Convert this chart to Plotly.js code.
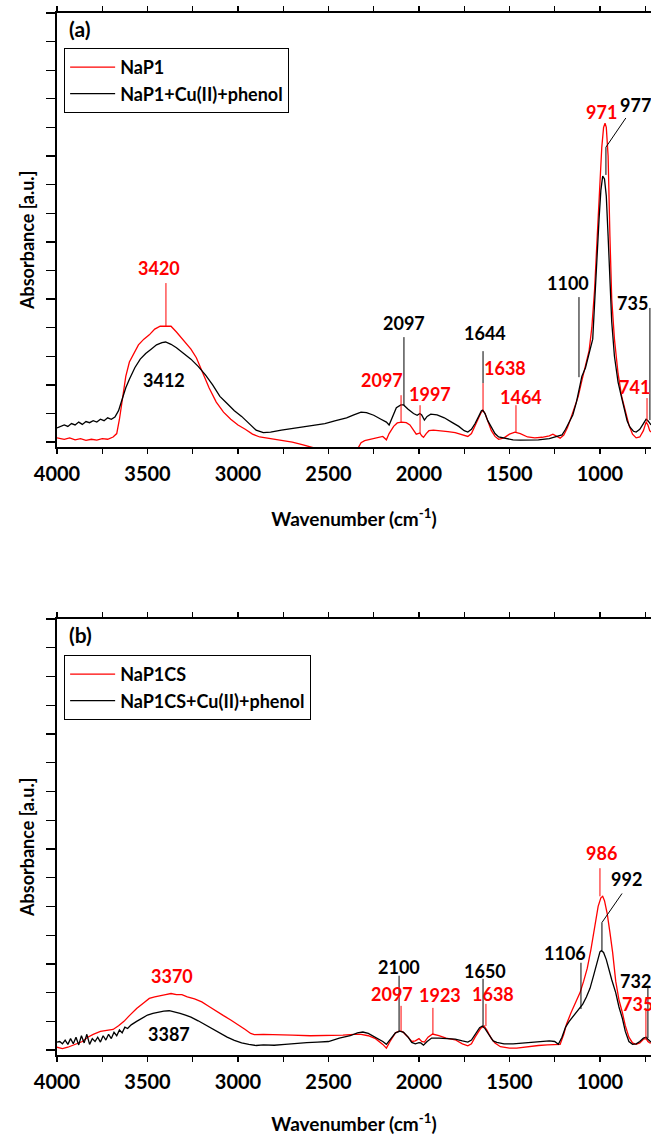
<!DOCTYPE html>
<html>
<head>
<meta charset="utf-8">
<script src="https://cdn.plot.ly/plotly-3.0.1.min.js"></script>
<style>html,body{margin:0;padding:0;background:#fff;}#chart{width:651px;height:1135px;}</style>
</head>
<body>
<div id="chart"></div>
<script>
// ---------- Panel (a) data ----------
const a_red_wn  = [4000,3960,3930,3900,3870,3840,3810,3780,3750,3720,3690,3670,3655,3640,3620,3600,3575,3550,3520,3490,3460,3430,3400,3370,3340,3300,3260,3230,3200,3160,3120,3080,3040,3000,2960,2920,2880,2820,2760,2700,2640,2580,2500,2400,2340,2320,2300,2260,2220,2200,2180,2165,2140,2120,2095,2070,2050,2030,2015,2005,1995,1985,1975,1960,1945,1920,1880,1840,1800,1760,1730,1710,1690,1670,1655,1645,1635,1620,1600,1580,1560,1530,1500,1470,1440,1400,1360,1320,1280,1260,1240,1220,1200,1180,1160,1140,1120,1100,1080,1060,1045,1030,1015,1000,990,980,972,965,955,945,935,920,900,880,860,840,820,800,780,760,745,735,725,718];
const a_red_abs = [0.15,0.1,0.15,0.08,0.12,0.06,0.1,0.07,0.12,0.1,0.18,0.3,0.8,1.5,2.3,2.8,3.1,3.4,3.6,3.75,3.95,4.05,4.05,4.05,3.85,3.55,3.25,2.95,2.5,1.9,1.4,1.05,0.8,0.6,0.45,0.28,0.18,0.12,0.05,0.0,-0.1,-0.2,-0.3,-0.3,-0.25,-0.02,0.05,0.1,0.15,0.2,0.08,0.3,0.55,0.67,0.7,0.68,0.6,0.42,0.28,0.3,0.32,0.22,0.17,0.3,0.4,0.42,0.4,0.37,0.33,0.27,0.2,0.3,0.55,0.85,1.05,1.1,1.0,0.75,0.4,0.2,0.1,0.15,0.28,0.35,0.3,0.18,0.15,0.17,0.22,0.28,0.22,0.14,0.25,0.5,0.85,1.2,1.6,2.15,2.7,3.2,4.0,5.3,7.2,9.0,10.3,11.0,11.15,11.0,10.0,7.2,5.0,3.6,2.4,1.6,1.05,0.6,0.28,0.15,0.18,0.4,0.7,0.6,0.4,0.35];

const a_blk_wn  = [4000,3980,3960,3940,3920,3900,3880,3860,3840,3820,3800,3780,3760,3740,3720,3700,3680,3660,3640,3620,3600,3570,3540,3510,3480,3450,3420,3400,3370,3340,3300,3260,3220,3180,3140,3100,3060,3020,2980,2940,2900,2860,2820,2760,2700,2640,2580,2520,2460,2400,2360,2320,2290,2250,2210,2180,2165,2150,2125,2100,2085,2060,2030,2010,1995,1985,1970,1955,1935,1900,1860,1820,1780,1750,1730,1710,1690,1670,1655,1648,1635,1620,1600,1580,1560,1520,1480,1440,1400,1340,1280,1240,1210,1190,1170,1150,1130,1115,1100,1080,1060,1040,1030,1020,1005,995,985,975,965,955,945,935,920,900,880,865,850,835,815,800,780,760,745,735,725,718];
const a_blk_abs = [0.5,0.55,0.6,0.55,0.65,0.6,0.7,0.62,0.72,0.68,0.75,0.7,0.8,0.75,0.85,0.8,0.88,1.1,1.5,1.9,2.2,2.6,2.9,3.1,3.25,3.4,3.48,3.5,3.42,3.3,3.1,2.9,2.65,2.35,2.0,1.6,1.35,1.1,0.9,0.65,0.42,0.33,0.35,0.42,0.48,0.53,0.6,0.65,0.75,0.85,0.95,1.05,1.03,0.94,0.8,0.7,0.6,0.85,1.2,1.3,1.3,1.15,1.0,0.94,1.0,0.95,0.77,0.9,0.98,0.95,0.85,0.7,0.55,0.4,0.35,0.45,0.65,0.9,1.1,1.12,1.0,0.75,0.5,0.3,0.18,0.12,0.08,0.07,0.07,0.08,0.12,0.18,0.25,0.45,0.7,0.95,1.4,1.9,2.3,2.6,3.1,3.6,4.8,6.2,7.8,8.8,9.3,9.2,8.6,7.2,5.6,4.2,3.0,2.1,1.55,1.1,0.75,0.53,0.38,0.35,0.45,0.65,0.8,0.75,0.65,0.6];

// ---------- Panel (b) data ----------
const b_red_wn  = [4000,3970,3940,3900,3860,3830,3800,3760,3720,3690,3660,3630,3600,3560,3520,3490,3460,3430,3400,3370,3340,3310,3280,3240,3200,3160,3120,3080,3040,3000,2960,2930,2910,2860,2800,2700,2600,2500,2420,2360,2320,2280,2240,2200,2180,2160,2130,2110,2090,2060,2040,2020,2000,1985,1970,1950,1925,1890,1850,1800,1760,1730,1710,1690,1660,1640,1625,1600,1580,1550,1500,1460,1400,1340,1290,1240,1220,1200,1185,1160,1130,1110,1090,1070,1050,1030,1010,995,985,975,960,945,930,913,895,876,860,840,820,800,780,760,745,735,725,718];
const b_red_abs = [0.1,0.05,0.1,0.2,0.3,0.45,0.55,0.65,0.68,0.72,0.85,1.0,1.2,1.45,1.65,1.8,1.85,1.9,1.93,1.97,1.93,1.93,1.85,1.78,1.68,1.52,1.35,1.2,1.05,0.9,0.72,0.58,0.54,0.55,0.53,0.52,0.5,0.5,0.52,0.55,0.55,0.5,0.4,0.2,0.07,0.3,0.6,0.66,0.64,0.45,0.3,0.32,0.4,0.3,0.28,0.45,0.56,0.5,0.42,0.36,0.22,0.15,0.22,0.45,0.75,0.84,0.7,0.4,0.25,0.12,0.07,0.07,0.12,0.16,0.18,0.2,0.2,0.55,0.9,1.3,1.7,2.0,2.4,2.85,3.5,4.3,5.0,5.3,5.35,5.2,4.75,4.1,3.4,2.4,1.75,1.3,0.85,0.45,0.25,0.2,0.25,0.38,0.4,0.3,0.25,0.25];

const b_blk_wn  = [4000,3985,3970,3955,3940,3925,3910,3895,3880,3865,3850,3835,3820,3805,3790,3775,3760,3745,3730,3715,3700,3685,3670,3655,3640,3625,3610,3590,3560,3530,3500,3470,3440,3410,3380,3350,3320,3290,3260,3220,3180,3140,3100,3060,3020,2980,2940,2900,2860,2800,2740,2680,2620,2560,2500,2440,2380,2340,2310,2280,2240,2200,2180,2160,2130,2105,2085,2060,2040,2020,2000,1990,1975,1955,1930,1890,1850,1800,1760,1730,1710,1690,1665,1650,1635,1610,1590,1570,1530,1480,1440,1380,1320,1280,1250,1230,1210,1190,1170,1140,1115,1095,1075,1055,1035,1015,1000,992,980,965,950,935,913,895,876,860,840,820,800,780,760,745,735,725,718];
const b_blk_abs = [0.28,0.3,0.22,0.35,0.2,0.4,0.22,0.45,0.18,0.5,0.25,0.55,0.2,0.4,0.3,0.45,0.28,0.5,0.35,0.55,0.4,0.62,0.5,0.7,0.6,0.8,0.75,0.88,1.0,1.12,1.22,1.28,1.32,1.36,1.37,1.33,1.28,1.22,1.15,1.02,0.88,0.72,0.58,0.45,0.34,0.25,0.2,0.16,0.18,0.17,0.2,0.24,0.26,0.28,0.3,0.42,0.5,0.6,0.63,0.58,0.45,0.3,0.2,0.35,0.6,0.66,0.62,0.45,0.27,0.22,0.26,0.25,0.17,0.3,0.42,0.42,0.4,0.38,0.32,0.28,0.35,0.55,0.78,0.84,0.75,0.5,0.32,0.27,0.22,0.22,0.24,0.27,0.29,0.32,0.3,0.2,0.45,0.8,1.0,1.25,1.42,1.6,1.85,2.15,2.6,3.1,3.42,3.46,3.4,3.15,2.76,2.45,2.0,1.5,1.1,0.65,0.3,0.2,0.22,0.3,0.42,0.45,0.38,0.3,0.28];

const seriesNames = ['NaP1','NaP1+Cu(II)+phenol','NaP1CS','NaP1CS+Cu(II)+phenol'];
const panelLabels = ['(a)','(b)'];
const xTickVals = [4000,3500,3000,2500,2000,1500,1000];

// ---------- Peak labels: [text, colour, labelX, labelY, line points [[x,y],...]] ----------
const RED = '#ff0000', BLK = '#000000';
const a_labels = [
  ['3420', RED, 3436, 6.08, [[3398,5.56],[3398,4.06]]],
  ['3412', BLK, 3409, 2.17, null],
  ['2097', BLK, 2083, 4.16, [[2083,3.67],[2083,1.29]]],
  ['2097', RED, 2204, 2.17, [[2099,1.64],[2099,0.70]]],
  ['1997', RED, 1939, 1.68, [[1994,1.29],[1994,0.31]]],
  ['1644', BLK, 1635, 3.81, [[1646,3.18],[1646,2.06]]],
  ['1638', RED, 1525, 2.59, [[1646,2.06],[1646,1.12]]],
  ['1464', RED, 1436, 1.57, [[1464,1.29],[1464,0.35]]],
  ['1100', BLK, 1177, 5.56, [[1116,5.07],[1116,2.27]]],
  ['735',  BLK, 818, 4.86, [[724,4.69],[724,0.77]]],
  ['741',  RED, 807, 1.92, [[740,1.54],[740,0.70]]],
  ['971',  RED, 989, 11.54, null],
  ['977',  BLK, 801, 11.78, [[857,11.33],[967,10.31],[967,9.34]]]
];
const b_labels = [
  ['3370', RED, 3365, 2.59, null],
  ['3387', BLK, 3381, 0.56, null],
  ['2100', BLK, 2110, 2.90, [[2110,2.59],[2110,0.66]]],
  ['2097', RED, 2149, 1.96, [[2099,1.54],[2099,0.66]]],
  ['1923', RED, 1884, 1.92, [[1923,1.47],[1923,0.56]]],
  ['1650', BLK, 1635, 2.76, [[1646,2.48],[1646,0.84]]],
  ['1638', RED, 1591, 1.96, [[1630,1.61],[1630,0.84]]],
  ['1106', BLK, 1193, 3.39, [[1105,3.04],[1105,1.43]]],
  ['986',  RED, 994, 6.85, [[1000,6.33],[1000,5.35]]],
  ['992',  BLK, 851, 5.94, [[878,5.45],[989,4.44],[989,3.46]]],
  ['732',  BLK, 801, 2.41, [[735,2.24],[735,0.42]]],
  ['735',  RED, 790, 1.61, [[746,1.47],[746,0.42]]]
];

const FONT = 'Lato, "Open Sans", sans-serif';
const yTitle = 'Absorbance [a.u.]';

function trace(x, y, name, color, xa, ya, leg, grp) {
  return {x:x, y:y, name:name, type:'scatter', mode:'lines',
          line:{color:color, width:1.3}, xaxis:xa, yaxis:ya, legend:leg, legendgroup:grp,
          hoverinfo:'skip'};
}
const data = [
  trace(a_red_wn, a_red_abs, seriesNames[0], RED, 'x', 'y', 'legend', 'g1'),
  trace(a_blk_wn, a_blk_abs, seriesNames[1], BLK, 'x', 'y', 'legend', 'g2'),
  trace(b_red_wn, b_red_abs, seriesNames[2], RED, 'x2', 'y2', 'legend2', 'g3'),
  trace(b_blk_wn, b_blk_abs, seriesNames[3], BLK, 'x2', 'y2', 'legend2', 'g4')
];

const annotations = [], shapes = [];
function addLabels(list, xr, yr) {
  list.forEach(l => {
    annotations.push({text:l[0], x:l[2], y:l[3], xref:xr, yref:yr, showarrow:false,
      xanchor:'center', yanchor:'middle',
      font:{family:FONT, size:18, weight:700, color:l[1]}});
    if (l[4]) {
      for (let i = 0; i < l[4].length - 1; i++) {
        shapes.push({type:'line', xref:xr, yref:yr,
          x0:l[4][i][0], y0:l[4][i][1], x1:l[4][i+1][0], y1:l[4][i+1][1],
          line:{color:l[1], width:1}});
      }
    }
  });
}
addLabels(a_labels, 'x', 'y');
addLabels(b_labels, 'x2', 'y2');

[[panelLabels[0], 0.9856], [panelLabels[1], 0.4031]].forEach(p => {
  annotations.push({text:p[0], xref:'paper', yref:'paper', x:0.016, y:p[1],
    xanchor:'left', yanchor:'middle', showarrow:false,
    font:{family:FONT, size:21, weight:700, color:'#000'}});
});
// y-axis titles (placed as rotated text, slightly below the panel centre as in the original)
[0.7812, 0.1987].forEach(yy => {
  annotations.push({text:yTitle, xref:'paper', yref:'paper', x:-0.0505, y:yy,
    xanchor:'center', yanchor:'middle', textangle:-90, showarrow:false,
    font:{family:FONT, size:18, weight:700, color:'#000'}});
});

function xAxis(anchor) {
  return {anchor:anchor, range:[4000,718], autorange:false,
    showline:true, linecolor:'#000', linewidth:2, mirror:'ticks',
    ticks:'outside', ticklen:5, tickwidth:1.3, tickcolor:'#000',
    tickvals:xTickVals, ticktext:xTickVals.map(String), ticklabelstandoff:3,
    minor:{dtick:250, tick0:0, ticks:'outside', ticklen:5, tickwidth:1.3, tickcolor:'#000'},
    showgrid:false, zeroline:false,
    tickfont:{family:FONT, size:20, weight:700, color:'#000'},
    title:{text:'Wavenumber (cm<sup>-1</sup>)', standoff:29,
      font:{family:FONT, size:19, weight:700, color:'#000'}}};
}
function yAxis(anchor, domain) {
  return {anchor:anchor, domain:domain, range:[-0.17,15.0], autorange:false,
    showline:true, linecolor:'#000', linewidth:2, mirror:'ticks',
    ticks:'outside', ticklen:9, tickwidth:1.3, tickcolor:'#000',
    tick0:0, dtick:1, showticklabels:false, showgrid:false, zeroline:false};
}

const legendStyle = (y) => ({x:0.012, y:y, xanchor:'left', yanchor:'top',
  bgcolor:'#fff', bordercolor:'#000', borderwidth:1, tracegroupgap:0,
  itemwidth:45, font:{family:FONT, size:18, weight:700, color:'#000'}});

const layout = {
  width:651, height:1135,
  margin:{l:57, r:0, t:13, b:80, autoexpand:false},
  paper_bgcolor:'#fff', plot_bgcolor:'#fff',
  showlegend:true,
  xaxis: xAxis('y'),
  yaxis: yAxis('x', [0.5835, 1]),
  xaxis2: xAxis('y2'),
  yaxis2: yAxis('x2', [0, 0.4184]),
  legend: legendStyle(0.9664),
  legend2: legendStyle(0.3839),
  annotations: annotations,
  shapes: shapes
};

Plotly.newPlot('chart', data, layout, {displayModeBar:false, staticPlot:true});
</script>
</body>
</html>
